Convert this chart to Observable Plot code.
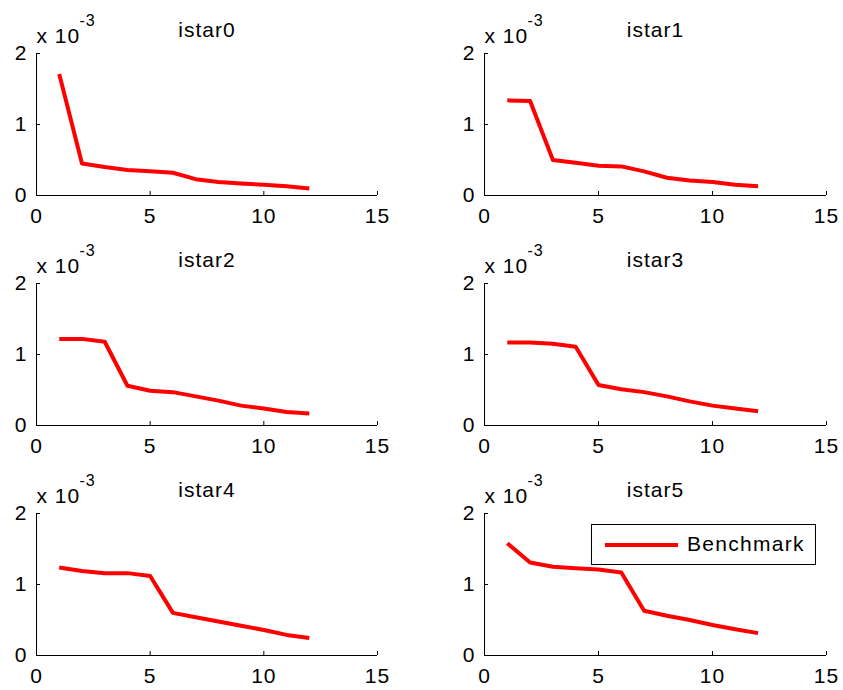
<!DOCTYPE html>
<html>
<head>
<meta charset="utf-8">
<script src="https://cdn.jsdelivr.net/npm/d3@7"></script>
<script src="https://cdn.jsdelivr.net/npm/@observablehq/plot@0.6"></script>
<style>
  html, body { margin: 0; padding: 0; background: #fff; }
  #root { position: relative; width: 843px; height: 690px; background: #fff; overflow: hidden;
          font-family: "Liberation Sans", Arial, sans-serif; }
  .panel { position: absolute; width: 421px; height: 230px; }
  .panel svg { display: block; overflow: visible; max-width: none !important; }
  .panel svg text { letter-spacing: 1px; }
  #legend { position: absolute; left: 591px; top: 524px; width: 225px; height: 41px;
            border: 1px solid #000; background: #fff; box-sizing: border-box; }
  #legend .swatch { position: absolute; left: 13px; top: 18px; width: 73px; height: 4px; background: #ff0000; }
  #legend .lab { position: absolute; left: 95px; top: 7px; font-size: 21px; line-height: 24px; color: #000; letter-spacing: 1.3px; }
</style>
</head>
<body>
<div id="root"></div>
<script>
// Values are in units of 10^-3
const steps = [1, 2, 3, 4, 5, 6, 7, 8, 9, 10, 11, 12];
const panelNames = ["istar0", "istar1", "istar2", "istar3", "istar4", "istar5"];
const istar0 = [1.71, 0.45, 0.40, 0.36, 0.34, 0.32, 0.23, 0.19, 0.17, 0.15, 0.13, 0.10];
const istar1 = [1.34, 1.33, 0.50, 0.46, 0.42, 0.41, 0.34, 0.25, 0.21, 0.19, 0.15, 0.13];
const istar2 = [1.22, 1.22, 1.18, 0.56, 0.49, 0.47, 0.41, 0.35, 0.28, 0.24, 0.19, 0.17];
const istar3 = [1.17, 1.17, 1.15, 1.11, 0.57, 0.51, 0.47, 0.41, 0.34, 0.28, 0.24, 0.20];
const istar4 = [1.24, 1.19, 1.16, 1.16, 1.12, 0.60, 0.54, 0.48, 0.42, 0.36, 0.29, 0.245];
const istar5 = [1.58, 1.31, 1.25, 1.23, 1.21, 1.17, 0.63, 0.56, 0.50, 0.43, 0.37, 0.315];
const seriesList = [istar0, istar1, istar2, istar3, istar4, istar5];
const xTicks = [0, 5, 10, 15];
const yTicks = [0, 1, 2];
const seriesLabel = "Benchmark";
const exponentBase = "x 10";
const exponent = "-3";

const font = '"Liberation Sans", Arial, sans-serif';
const root = document.getElementById("root");
const intFmt = d3.format("d");

function makePanel(name, values, col) {
  const data = steps.map((s, i) => ({ step: s, value: values[i] }));
  return Plot.plot({
    width: 421,
    height: 230,
    marginLeft: 36,
    marginRight: col === 0 ? 44 : 43,
    marginTop: 53,
    marginBottom: 35,
    style: { fontFamily: font, fontSize: "21px", color: "#000", background: "transparent", overflow: "visible" },
    x: { domain: [0, 15] },
    y: { domain: [0, 2] },
    marks: [
      Plot.ruleY([0], { stroke: "#000", strokeWidth: 1 }),
      Plot.ruleX([0], { stroke: "#000", strokeWidth: 1 }),
      Plot.axisX({ ticks: xTicks, tickSize: -4, tickFormat: () => "", label: null, stroke: "#000" }),
      Plot.axisX({ ticks: xTicks, tickSize: 0, tickPadding: 13, tickFormat: intFmt, label: null, fill: "#000" }),
      Plot.axisY({ ticks: yTicks, tickSize: -4, tickFormat: () => "", label: null, stroke: "#000" }),
      Plot.axisY({ ticks: yTicks, tickSize: 0, tickPadding: 9, tickFormat: intFmt, label: null, fill: "#000" }),
      Plot.lineY(data, { x: "step", y: "value", stroke: "#ff0000", strokeWidth: 4,
                         strokeLinecap: "butt", strokeLinejoin: "round" }),
      Plot.text([name], { text: d => d, frameAnchor: "top", lineAnchor: "bottom", dy: -17,
                          fill: "#000", fontSize: 21 }),
      Plot.text([exponentBase], { text: d => d, frameAnchor: "top-left", textAnchor: "start",
                                  lineAnchor: "bottom", dy: -11, fill: "#000", fontSize: 21 }),
      Plot.text([exponent], { text: d => d, frameAnchor: "top-left", textAnchor: "start",
                              lineAnchor: "bottom", dx: 43, dy: -28, fill: "#000", fontSize: 16 })
    ]
  });
}

panelNames.forEach((name, i) => {
  const col = i % 2, row = Math.floor(i / 2);
  const div = document.createElement("div");
  div.className = "panel";
  div.style.left = (col === 0 ? 0 : 448) + "px";
  div.style.top = (row * 230) + "px";
  div.appendChild(makePanel(name, seriesList[i], col));
  root.appendChild(div);
});

const legend = document.createElement("div");
legend.id = "legend";
legend.innerHTML = '<div class="swatch"></div><div class="lab"></div>';
legend.querySelector(".lab").textContent = seriesLabel;
root.appendChild(legend);
</script>
</body>
</html>
